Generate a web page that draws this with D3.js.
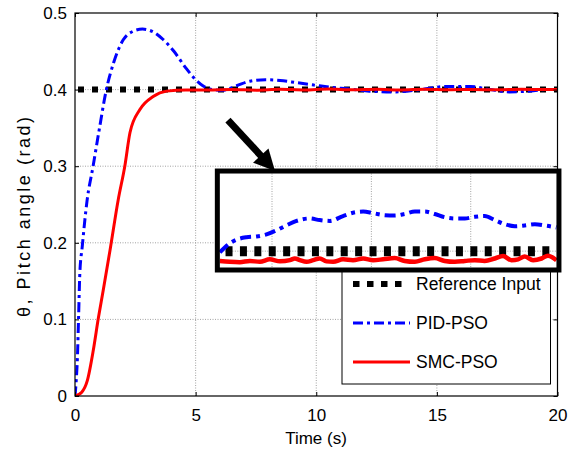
<!DOCTYPE html>
<html>
<head>
<meta charset="utf-8">
<script src="https://cdn.jsdelivr.net/npm/d3@7"></script>
<style>
  body { margin: 0; background: #fff; }
  text { font-family: "Liberation Sans", Arial, sans-serif; fill: #000; }
</style>
</head>
<body>
<script>
const w = 574
const h = 453

// main plot data
const timeRef = [0, 20]
const refValues = [0.4, 0.4]
const timePid = [0, 0.05, 0.1, 0.15, 0.2, 0.3, 0.5, 0.75, 1.0, 1.3, 1.6, 2.0, 2.4, 2.8, 3.2, 3.6, 4.1, 4.6, 5.0, 5.3,
  5.7, 6.1, 6.7, 7.25, 7.9, 8.5, 9.2, 9.9, 10.6, 11.3, 12.2, 13.3, 14.3, 15.4, 16.4, 17.2, 18.0, 18.8, 19.5, 20]
const pidValues = [0, 0.02, 0.05, 0.105, 0.16, 0.195, 0.255, 0.3, 0.347, 0.4, 0.435, 0.465, 0.476, 0.479, 0.476, 0.467, 0.45, 0.428, 0.413, 0.405,
  0.4, 0.399, 0.405, 0.411, 0.413, 0.412, 0.409, 0.406, 0.403, 0.401, 0.398, 0.397, 0.4, 0.404, 0.404, 0.4, 0.397, 0.398, 0.4, 0.4]
const timeSmc = [0, 0.28, 0.51, 0.76, 0.97, 1.17, 1.45, 1.79, 2.07, 2.28, 2.69, 3.24, 3.8, 4.6, 5.5,
  6.5, 7.5, 8.5, 9.5, 10.5, 11.5, 12.5, 13.5, 14.5, 15.5, 16.5, 17.5, 18.5, 19.5, 20]
const smcValues = [0, 0.005, 0.02, 0.06, 0.102, 0.138, 0.19, 0.256, 0.301, 0.344, 0.374, 0.391, 0.398, 0.3995, 0.3995,
  0.4, 0.3993, 0.4005, 0.3995, 0.4008, 0.3997, 0.4003, 0.3996, 0.4004, 0.3998, 0.4002, 0.3997, 0.4003, 0.4, 0.4]

// zoomed inset data
const insetTimePid = [5.9, 6.17, 6.57, 6.97, 7.38, 7.78, 8.18, 8.58, 8.99, 9.52, 9.92, 10.33, 10.86, 11.26, 11.67, 12.07, 12.54,
  12.94, 13.34, 13.75, 14.15, 14.55, 14.95, 15.36, 15.76, 16.16, 16.56, 16.97, 17.37, 17.77, 18.17, 18.58, 18.98, 19.45]
const insetPid = [0.3997, 0.4013, 0.4028, 0.4034, 0.4036, 0.4041, 0.4051, 0.4063, 0.4074, 0.408, 0.4076, 0.4074, 0.4086, 0.4094, 0.4097, 0.4093, 0.4088,
  0.4087, 0.4091, 0.4097, 0.4097, 0.4091, 0.4083, 0.408, 0.408, 0.4084, 0.4086, 0.4076, 0.4066, 0.4061, 0.4063, 0.4066, 0.4063, 0.4058]
const insetTimeSmc = [5.9, 6.3, 6.7, 7.11, 7.51, 7.91, 8.32, 8.72, 8.92, 9.12, 9.39, 9.66, 9.92, 10.19, 10.46, 10.86, 11.26, 11.67, 12.07, 12.47,
  12.94, 13.34, 13.75, 14.15, 14.55, 14.95, 15.36, 15.76, 16.16, 16.56, 16.97, 17.3, 17.64, 17.91, 18.17, 18.51, 18.85, 19.11, 19.45]
const insetSmc = [0.3976, 0.3974, 0.3973, 0.3976, 0.3974, 0.398, 0.3975, 0.3978, 0.3982, 0.3978, 0.3974, 0.3978, 0.3982, 0.3975, 0.3974, 0.398, 0.3978, 0.3982, 0.3978, 0.398,
  0.3983, 0.3976, 0.3974, 0.398, 0.3983, 0.3976, 0.3974, 0.3976, 0.3978, 0.3976, 0.3982, 0.3988, 0.3978, 0.398, 0.3987, 0.3978, 0.3982, 0.3989, 0.3978]

const xTicks = [0, 5, 10, 15, 20]
const yTicks = [0, 0.1, 0.2, 0.3, 0.4, 0.5]
const insetXGrid = [8, 12, 16]
const insetYGrid = [0.4]
const legendLabels = ['Reference Input', 'PID-PSO', 'SMC-PSO']

// inset box and arrow, in main-axis coordinates
const insetBox = [5.9, 20.06, 0.2937, 0.1645]
const insetDomainX = [5.9, 19.45]
const insetDomainY = [0.396, 0.419]
const arrowFrom = [6.34, 0.3603]
const arrowTo = [8.29, 0.2937]

const blue = '#0000ff'
const red = '#ff0000'
const pidDash = '10,4,3,4'

const svg = d3.select('body').append('svg').attr('width', w).attr('height', h)
svg.append('rect').attr('width', w).attr('height', h).attr('fill', '#fff')

const x = d3.scaleLinear().domain([0, 20]).range([75, 557.5])
const y = d3.scaleLinear().domain([0, 0.5]).range([396, 13])

svg.append('clipPath').attr('id', 'plotclip').append('rect')
  .attr('x', x(0)).attr('y', y(0.5)).attr('width', x(20) - x(0)).attr('height', y(0) - y(0.5))

// grid
const grid = svg.append('g').attr('stroke', '#8a8a8a').attr('stroke-width', 0.8).attr('stroke-dasharray', '1,1.5')
grid.selectAll('.gx').data(xTicks.slice(1, -1)).enter().append('line')
  .attr('x1', d => x(d)).attr('x2', d => x(d)).attr('y1', y(0)).attr('y2', y(0.5))
grid.selectAll('.gy').data(yTicks.slice(1, -1)).enter().append('line')
  .attr('y1', d => y(d)).attr('y2', d => y(d)).attr('x1', x(0)).attr('x2', x(20))

const zip = (ts, vs) => ts.map((t, i) => [t, vs[i]])
const lineMain = d3.line().x(d => x(d[0])).y(d => y(d[1])).curve(d3.curveMonotoneX)

const plot = svg.append('g').attr('clip-path', 'url(#plotclip)')
plot.append('path').datum(zip(timeRef, refValues)).attr('d', lineMain)
  .attr('fill', 'none').attr('stroke', '#000').attr('stroke-width', 6).attr('stroke-dasharray', '6,8').attr('stroke-dashoffset', -3)
plot.append('path').datum(zip(timePid, pidValues)).attr('d', lineMain)
  .attr('fill', 'none').attr('stroke', blue).attr('stroke-width', 3).attr('stroke-dasharray', pidDash)
plot.append('path').datum(zip(timeSmc, smcValues)).attr('d', lineMain)
  .attr('fill', 'none').attr('stroke', red).attr('stroke-width', 3)

// frame and axes
svg.append('rect').attr('x', x(0)).attr('y', y(0.5)).attr('width', x(20) - x(0)).attr('height', y(0) - y(0.5))
  .attr('fill', 'none').attr('stroke', '#000').attr('stroke-width', 1.2)

const styleAxis = g => {
  g.select('.domain').remove()
  g.selectAll('.tick line').attr('stroke', '#000')
  g.selectAll('.tick text').attr('font-size', 17).attr('fill', '#000')
    .style('font-family', '"Liberation Sans", Arial, sans-serif')
}
svg.append('g').attr('transform', `translate(0,${y(0)})`)
  .call(d3.axisBottom(x).tickValues(xTicks).tickSize(-4).tickPadding(13).tickFormat(d3.format('d'))).call(styleAxis)
svg.append('g').attr('transform', `translate(0,${y(0.5)})`)
  .call(d3.axisTop(x).tickValues(xTicks).tickSize(-4).tickFormat('')).call(styleAxis)
svg.append('g').attr('transform', `translate(${x(0)},0)`)
  .call(d3.axisLeft(y).tickValues(yTicks).tickSize(-4).tickPadding(8).tickFormat(d => d === 0 ? '0' : d3.format('.1f')(d))).call(styleAxis)
svg.append('g').attr('transform', `translate(${x(20)},0)`)
  .call(d3.axisRight(y).tickValues(yTicks).tickSize(-4).tickFormat('')).call(styleAxis)

svg.append('text').attr('x', 316).attr('y', 444).attr('text-anchor', 'middle').attr('font-size', 17).text('Time (s)')
svg.append('text').attr('transform', 'translate(30,217) rotate(-90)').attr('text-anchor', 'middle')
  .attr('font-size', 18).attr('textLength', 200).attr('lengthAdjust', 'spacing').text('θ, Pitch angle (rad)')

// legend
const legend = svg.append('g')
legend.append('rect').attr('x', 342).attr('y', 262).attr('width', 208.5).attr('height', 122)
  .attr('fill', '#fff').attr('stroke', '#000').attr('stroke-width', 1)
const legendY = [284, 323, 362]
const legendStyles = [
  { stroke: '#000', width: 6, dash: '6.5,7.5', x2: 403 },
  { stroke: blue, width: 3, dash: pidDash, x2: 410 },
  { stroke: red, width: 3, dash: null, x2: 410 }
]
legendLabels.forEach((label, i) => {
  const s = legendStyles[i]
  legend.append('line').attr('x1', 353).attr('x2', s.x2).attr('y1', legendY[i]).attr('y2', legendY[i])
    .attr('stroke', s.stroke).attr('stroke-width', s.width).attr('stroke-dasharray', s.dash)
  legend.append('text').attr('x', 416).attr('y', legendY[i]).attr('dy', '0.35em').attr('font-size', 17.5).text(label)
})

// inset (zoomed view)
const bx0 = x(insetBox[0]), bx1 = x(insetBox[1]), by0 = y(insetBox[2]), by1 = y(insetBox[3])
const border = 5
const ix = d3.scaleLinear().domain(insetDomainX).range([bx0 + border / 2, bx1 - border / 2])
const iy = d3.scaleLinear().domain(insetDomainY).range([by1 - border / 2, by0 + border / 2])
const inset = svg.append('g')
inset.append('rect').attr('x', bx0).attr('y', by0).attr('width', bx1 - bx0).attr('height', by1 - by0).attr('fill', '#fff')
svg.append('clipPath').attr('id', 'insetclip').append('rect')
  .attr('x', bx0).attr('y', by0).attr('width', bx1 - bx0).attr('height', by1 - by0)
const ig = inset.append('g').attr('clip-path', 'url(#insetclip)')
ig.selectAll('.igx').data(insetXGrid).enter().append('line')
  .attr('x1', d => ix(d)).attr('x2', d => ix(d)).attr('y1', by0).attr('y2', by1)
  .attr('stroke', '#8a8a8a').attr('stroke-width', 0.8).attr('stroke-dasharray', '1,1.5')
ig.selectAll('.igy').data(insetYGrid).enter().append('line')
  .attr('y1', d => iy(d)).attr('y2', d => iy(d)).attr('x1', bx0).attr('x2', bx1)
  .attr('stroke', '#8a8a8a').attr('stroke-width', 0.8).attr('stroke-dasharray', '1,1.5')
const lineInset = d3.line().x(d => ix(d[0])).y(d => iy(d[1])).curve(d3.curveMonotoneX)
ig.append('path').datum(zip(insetDomainX, refValues)).attr('d', lineInset)
  .attr('fill', 'none').attr('stroke', '#000').attr('stroke-width', 10).attr('stroke-dasharray', '7,7.4').attr('stroke-dashoffset', 8.7)
ig.append('path').datum(zip(insetTimePid, insetPid)).attr('d', lineInset)
  .attr('fill', 'none').attr('stroke', blue).attr('stroke-width', 4).attr('stroke-dasharray', '11,5,4,5')
ig.append('path').datum(zip(insetTimeSmc, insetSmc)).attr('d', lineInset)
  .attr('fill', 'none').attr('stroke', red).attr('stroke-width', 4.5)
inset.append('rect').attr('x', bx0).attr('y', by0).attr('width', bx1 - bx0).attr('height', by1 - by0)
  .attr('fill', 'none').attr('stroke', '#000').attr('stroke-width', border)

// arrow pointing at the inset
const ax0 = x(arrowFrom[0]), ay0 = y(arrowFrom[1]), ax1 = x(arrowTo[0]), ay1 = y(arrowTo[1])
const len = Math.hypot(ax1 - ax0, ay1 - ay0)
const ux = (ax1 - ax0) / len, uy = (ay1 - ay0) / len
const headLen = 21, headHalf = 10.5
const bx = ax1 - ux * headLen, by = ay1 - uy * headLen
svg.append('line').attr('x1', ax0).attr('y1', ay0).attr('x2', bx + ux * 2).attr('y2', by + uy * 2)
  .attr('stroke', '#000').attr('stroke-width', 7)
svg.append('polygon')
  .attr('points', [[ax1, ay1], [bx - uy * headHalf, by + ux * headHalf], [bx + uy * headHalf, by - ux * headHalf]].map(p => p.join(',')).join(' '))
  .attr('fill', '#000')
</script>
</body>
</html>
